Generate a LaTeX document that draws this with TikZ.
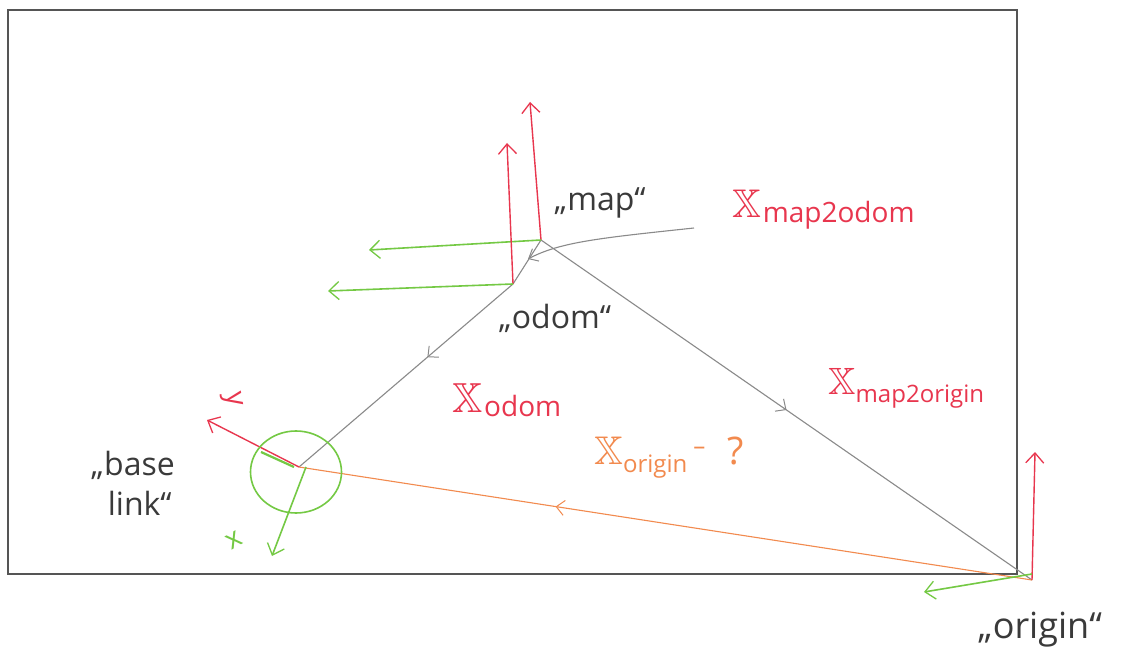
\documentclass[tikz,border=0pt]{standalone}
\usepackage{amsmath,amssymb}
\usepackage{fontspec}
\setmainfont{Open Sans}
\usetikzlibrary{arrows.meta,decorations.markings,shapes.geometric}
\definecolor{axred}{HTML}{E8364E}
\definecolor{axgreen}{HTML}{74C944}
\definecolor{linkgray}{HTML}{8A8A8A}
\definecolor{boxgray}{HTML}{555555}
\definecolor{axorange}{HTML}{F28A4E}
\definecolor{inkgray}{HTML}{3A3A3A}
\newcommand{\bigX}[1]{{\fontsize{#1}{#1}\selectfont$\mathbb{X}$}}
\tikzset{
  barb/.tip={Straight Barb[length=10pt,width=18pt,line width=1.3pt]},
  redax/.style={draw=axred, line width=1.4pt, -barb},
  greenax/.style={draw=axgreen, line width=1.6pt, -barb},
  link/.style={draw=linkgray, line width=1.1pt},
  midarrow/.style={postaction={decorate}, decoration={markings, mark=at position #1 with {\arrow{Straight Barb[length=8pt,width=15pt,line width=1pt]}}}},
  inklabel/.style={text=inkgray, font=\fontsize{30}{36}\selectfont, inner sep=0pt},
  redlabel/.style={text=axred, inner sep=0pt, anchor=west},
}
\begin{document}
\begin{tikzpicture}[x=1pt,y=-1pt]
\useasboundingbox (0,0) rectangle (1135,671);
\fill[white] (0,0) rectangle (1135,671);
% frame
\draw[boxgray, line width=2.2pt] (8,10) rectangle (1017,574);
% frames
\coordinate (map) at (541,240);
\coordinate (odom) at (513,284);
\coordinate (base) at (299,467);
\coordinate (origin) at (1032,580);
% axis ends
\coordinate (mapup) at (530,102);
\coordinate (mapleft) at (369,250);
\coordinate (odomup) at (507,143);
\coordinate (odomleft) at (328,291);
\coordinate (basey) at (207,420);
\coordinate (basex) at (272,556);
\coordinate (originup) at (1035,452);
\coordinate (originleft) at (924,592);
\coordinate (ptrstart) at (694,228);
\coordinate (ptrend) at (528,259);
% transforms
\draw[link] (map) -- (odom);
\draw[link, midarrow=0.4] (odom) -- (base);
\draw[link, midarrow=0.5] (map) -- (origin);
\draw[draw=axorange, line width=1.1pt, midarrow=0.65] (origin) -- (base);
\draw[link, -{Straight Barb[length=8pt,width=14pt,line width=1pt]}] (ptrstart) .. controls (600,238) and (560,242) .. (ptrend);
% axes
\draw[redax] (map) -- (mapup);
\draw[greenax] (map) -- (mapleft);
\draw[redax] (odom) -- (odomup);
\draw[greenax] (odom) -- (odomleft);
\draw[redax] (base) -- (basey);
\draw[axgreen, line width=2.2pt] (261,452) -- (294,467);
\draw[greenax] ([xshift=7pt]base) -- (basex);
\draw[redax] (origin) -- (originup);
\draw[greenax] ([yshift=6pt]origin) -- (originleft);
% base_link circle
\node[draw=axgreen, line width=1.6pt, ellipse, minimum width=91pt, minimum height=82pt, inner sep=0pt] (ring) at (296,472) {};
% labels
\node[inklabel, font=\fontsize{32}{36}\selectfont] (lmap) at (600,203) {„map“};
\node[inklabel, font=\fontsize{32}{36}\selectfont] (lodom) at (555,318) {„odom“};
\node[inklabel, align=left, font=\fontsize{32}{40}\selectfont] (lbase) at (133,483) {„base\\\ \ link“};
\node[inklabel, font=\fontsize{36}{40}\selectfont] (lorigin) at (1040,630) {„origin“};
\node[redlabel] (tmap2odom) at (732,210) {\bigX{40}\,\raisebox{-5pt}{\fontsize{28}{30}\selectfont map2odom}};
\node[redlabel] (todom) at (452,400) {\bigX{42}\,\raisebox{-4pt}{\fontsize{28}{30}\selectfont odom}};
\node[redlabel] (tmap2origin) at (828,388) {\bigX{38}\raisebox{-8pt}{\fontsize{24}{26}\selectfont map2origin}};
\node[redlabel, text=axorange] (torigin) at (594,458) {\bigX{40}\raisebox{-8pt}{\fontsize{24}{26}\selectfont origin}\hspace{6pt}\raisebox{10pt}{\fontsize{24}{26}\selectfont –}\hspace{22pt}{\fontsize{38}{40}\selectfont ?}};
\node[text=axred, inner sep=0pt, font=\fontsize{28}{30}\selectfont, rotate=-80] (ly) at (232,400) {y};
\node[text=axgreen, inner sep=0pt, font=\fontsize{28}{30}\selectfont, rotate=30] (lx) at (234,540) {x};
\end{tikzpicture}
\end{document}
